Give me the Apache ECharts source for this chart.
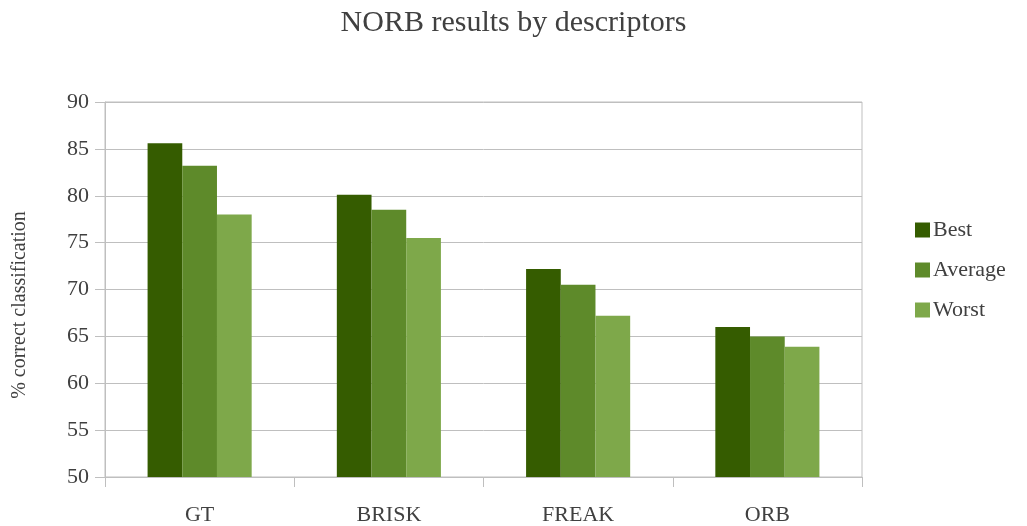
<!DOCTYPE html>
<html>
<head>
<meta charset="utf-8">
<script src="https://cdn.jsdelivr.net/npm/echarts@6/dist/echarts.min.js"></script>
<style>
  html, body { margin: 0; padding: 0; background: #ffffff; }
  #chart { width: 1027px; height: 526px; }
</style>
</head>
<body>
<div id="chart"></div>
<script>
// Descriptor categories and classification rates (%)
const categories = ['GT', 'BRISK', 'FREAK', 'ORB'];
const bestValues = [85.6, 80.1, 72.2, 66.0];
const averageValues = [83.2, 78.5, 70.5, 65.0];
const worstValues = [78.0, 75.5, 67.2, 63.9];
const seriesNames = ['Best', 'Average', 'Worst'];
const yAxisTitle = '% correct classification';

const FONT = 'Liberation Serif, DejaVu Serif, serif';
const TEXT = '#404040';
const GRID = '#bfbfbf';
const colors = ['#355C00', '#5E8A2A', '#7EA84A'];

const chart = echarts.init(document.getElementById('chart'), null, { renderer: 'canvas' });

chart.setOption({
  animation: false,
  backgroundColor: '#ffffff',
  color: colors,
  textStyle: { fontFamily: FONT, color: TEXT },
  title: {
    text: 'NORB results by descriptors',
    left: 'center',
    top: 3,
    textStyle: { fontFamily: FONT, fontSize: 30, fontWeight: 'normal', color: TEXT }
  },
  legend: {
    orient: 'vertical',
    left: 910,
    top: 214,
    itemWidth: 15,
    itemHeight: 15,
    itemGap: 18,
    icon: 'rect',
    data: seriesNames,
    textStyle: { fontFamily: FONT, fontSize: 22, color: TEXT, padding: [0, 0, 0, -2] }
  },
  // rotated y-axis title
  graphic: [{
    type: 'text',
    x: 20,
    y: 305,
    rotation: Math.PI / 2,
    style: {
      text: yAxisTitle,
      fontFamily: FONT,
      fontSize: 20,
      fill: TEXT,
      align: 'center',
      verticalAlign: 'middle'
    }
  }],
  grid: {
    left: 105,
    right: 165,
    top: 102,
    bottom: 49,
    show: true,
    borderColor: GRID,
    borderWidth: 1
  },
  xAxis: {
    type: 'category',
    data: categories,
    axisLine: { lineStyle: { color: GRID, width: 1 } },
    axisTick: { show: true, length: 10, alignWithLabel: false, lineStyle: { color: GRID } },
    axisLabel: { fontFamily: FONT, fontSize: 22, color: TEXT, margin: 27 }
  },
  yAxis: {
    type: 'value',
    min: 50,
    max: 90,
    interval: 5,
    axisLine: { show: true, lineStyle: { color: GRID, width: 1 } },
    axisTick: { show: true, length: 10, lineStyle: { color: GRID } },
    axisLabel: { fontFamily: FONT, fontSize: 22, color: TEXT, margin: 16 },
    splitLine: { show: true, lineStyle: { color: GRID, width: 1 } }
  },
  series: [
    { name: seriesNames[0], type: 'bar', data: bestValues, barGap: '0%', barCategoryGap: '45%' },
    { name: seriesNames[1], type: 'bar', data: averageValues, barGap: '0%', barCategoryGap: '45%' },
    { name: seriesNames[2], type: 'bar', data: worstValues, barGap: '0%', barCategoryGap: '45%' }
  ]
});
</script>
</body>
</html>
